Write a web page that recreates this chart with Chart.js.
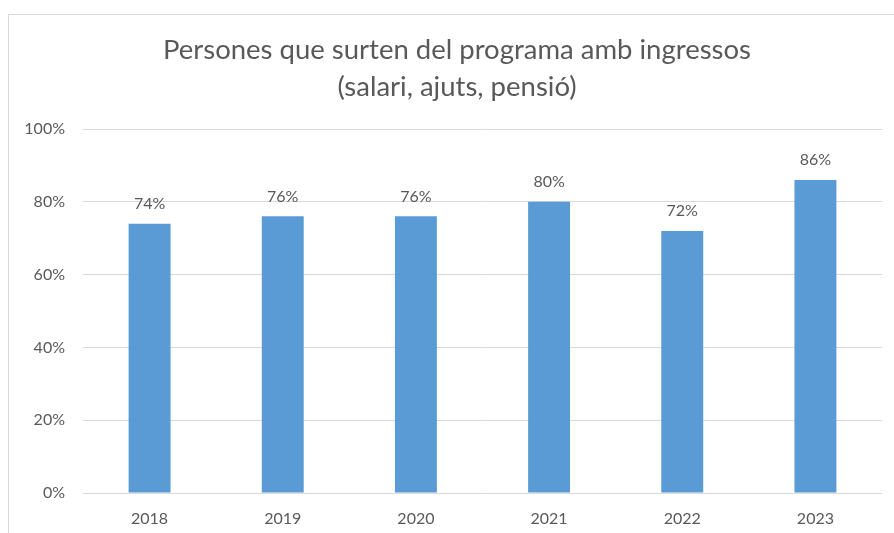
<!DOCTYPE html>
<html>
<head>
<meta charset="utf-8">
<script src="https://cdn.jsdelivr.net/npm/chart.js@4.4.0/dist/chart.umd.min.js"></script>
<style>
  html, body { margin: 0; padding: 0; background: #fff; }
  #frame {
    position: absolute; left: 8px; top: 14px;
    width: 1000px; height: 1000px;
    border: 1px solid #d9d9d9; box-sizing: border-box;
  }
  #wrap { position: absolute; left: 0; top: 0; width: 894px; height: 533px; }
</style>
</head>
<body>
<div id="frame"></div>
<div id="wrap"><canvas id="chart" width="894" height="533"></canvas></div>
<script>
  const years = ["2018", "2019", "2020", "2021", "2022", "2023"];
  const shares = [74, 76, 76, 80, 72, 86];
  const titleLines = ["Persones que surten del programa amb ingressos", "(salari, ajuts, pensió)"];

  const textGray = "#595959";
  const fontFamily = "Lato, 'Open Sans', sans-serif";

  // draws the value above each bar, from the bar element positions
  const valueLabels = {
    id: "valueLabels",
    afterDatasetsDraw(chart) {
      const ctx = chart.ctx;
      const meta = chart.getDatasetMeta(0);
      ctx.save();
      ctx.fillStyle = textGray;
      ctx.font = "16px " + fontFamily;
      ctx.textAlign = "center";
      ctx.textBaseline = "middle";
      meta.data.forEach((bar, i) => {
        ctx.fillText(shares[i] + "%", bar.x, bar.y - 20);
      });
      ctx.restore();
    },
  };

  // the title in the original sits a bit right of the canvas centre
  const titleShift = {
    id: "titleShift",
    afterLayout(chart) {
      const t = chart.titleBlock;
      if (!t) return;
      t.left += 32;
    },
  };

  new Chart(document.getElementById("chart"), {
    type: "bar",
    data: {
      labels: years,
      datasets: [
        {
          data: shares,
          backgroundColor: "#5b9bd5",
          borderWidth: 0,
          barPercentage: 0.45,
          categoryPercentage: 0.7,
        },
      ],
    },
    options: {
      responsive: false,
      animation: false,
      layout: { padding: { left: 0, right: 12, top: 0, bottom: 0 } },
      plugins: {
        legend: { display: false },
        tooltip: { enabled: false },
        title: {
          display: true,
          text: titleLines,
          color: textGray,
          font: { family: fontFamily, size: 27.5, weight: "normal", lineHeight: 37 / 27.5 },
          padding: { top: 32, bottom: 23 },
        },
      },
      scales: {
        x: {
          afterFit: (s) => { s.height = 40; },
          grid: { display: false, drawTicks: false },
          border: { display: false },
          ticks: { color: textGray, font: { family: fontFamily, size: 16 }, padding: 16, maxRotation: 0 },
        },
        y: {
          min: 0,
          max: 100,
          afterFit: (s) => { s.width = 83; },
          grid: { color: "#d9d9d9", lineWidth: 1, drawTicks: false },
          border: { display: false },
          ticks: {
            stepSize: 20,
            color: textGray,
            font: { family: fontFamily, size: 16 },
            padding: 18,
            callback: (v) => v + "%",
          },
        },
      },
    },
    plugins: [valueLabels, titleShift],
  });
</script>
</body>
</html>
